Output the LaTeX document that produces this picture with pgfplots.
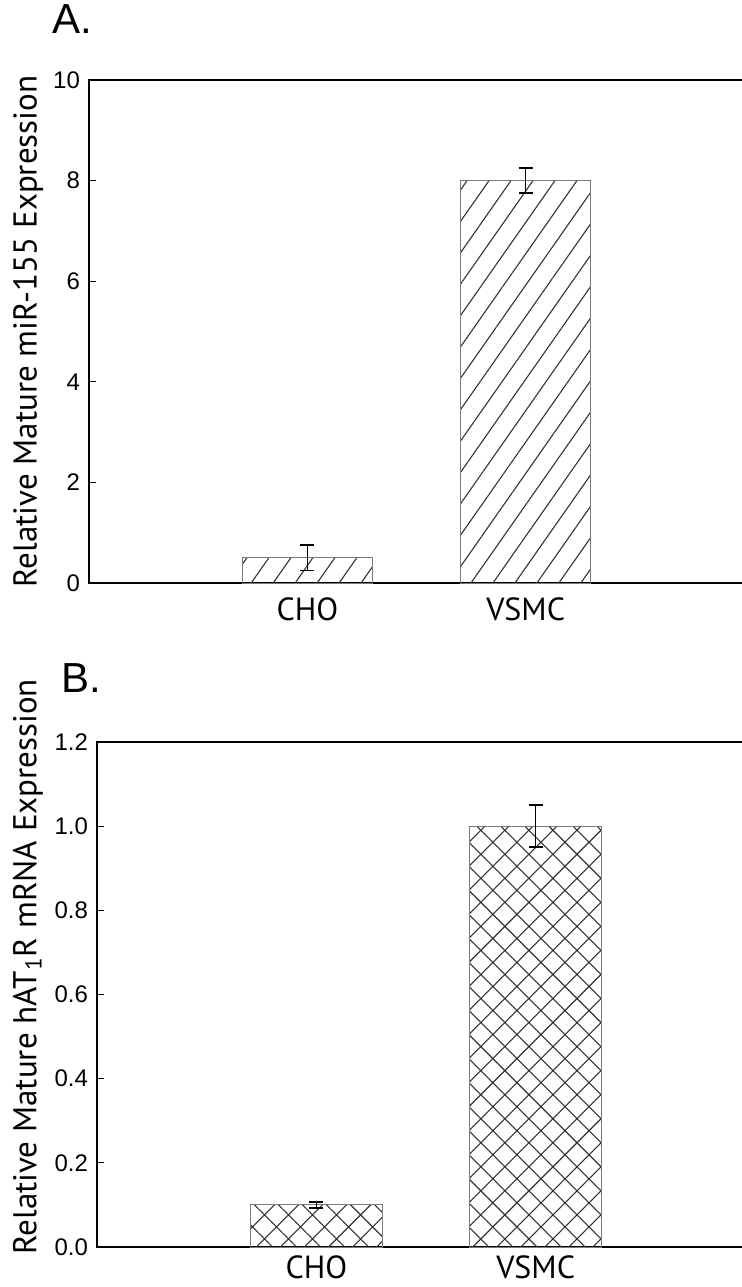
\documentclass[border=0pt]{standalone}
\usepackage{fontspec}
\setmainfont{Liberation Sans}
\newfontfamily\labfont{PT Sans}
\usepackage{pgfplots}
\pgfplotsset{compat=1.18}
\usetikzlibrary{patterns.meta}

\definecolor{HatchGray}{HTML}{333333}
\definecolor{EdgeGray}{HTML}{7A7A7A}

\pgfplotsset{
  panel/.style={
    scale only axis, ybar, xmin=0, xmax=3, ymin=0,
    xtick={1,2}, xticklabels={CHO,VSMC},
    xtick style={draw=none},
    ytick pos=left, tick align=inside, major tick length=3.5pt,
    ytick style={line width=0.6pt,black},
    axis line style={line width=1.25pt},
    tick label style={font=\fontsize{12}{14}\selectfont},
    yticklabel style={xshift=-1pt},
    xticklabel style={font=\labfont\fontsize{16}{18}\selectfont},
    /pgf/number format/assume math mode=true,
    every axis y label/.style={rotate=90,anchor=center,
      font=\labfont\fontsize{16.5}{18}\selectfont},
    clip=false},
  errs/.style={error bars/.cd, y dir=both, y explicit,
    error bar style={line width=0.8pt,black},
    error mark options={rotate=90,line width=0.8pt,mark size=3.5pt,black}}}

\begin{document}
\begin{tikzpicture}
\useasboundingbox (0,0) rectangle (371pt,-643.5pt);

\node[anchor=base west,inner sep=0pt,font=\fontsize{21}{23}\selectfont] at (26pt,-16.5pt) {A.};
\node[anchor=base west,inner sep=0pt,font=\fontsize{21}{23}\selectfont] at (30.5pt,-346pt) {B.};

% panel A
\begin{axis}[panel, at={(44.5pt,-291.5pt)}, anchor=south west,
  width=327.5pt, height=251.5pt, ymax=10, ytick={0,2,...,10},
  bar width=65pt, xticklabel style={yshift=-4pt},
  ylabel={Relative Mature miR-155 Expression},
  every axis y label/.append style={at={(axis description cs:-0.093,0.5)}}]
  \addplot[pattern={Lines[angle=55,distance=9pt,line width=0.55pt]},
    pattern color=HatchGray, draw=EdgeGray, line width=0.5pt, errs]
    coordinates {(1,0.5) +- (0,0.25) (2,8.0) +- (0,0.25)};
\end{axis}

% panel B
\begin{axis}[panel, at={(48.5pt,-623.5pt)}, anchor=south west,
  width=329pt, height=252.5pt, ymax=1.2, ytick={0,0.2,...,1.2},
  yticklabel style={/pgf/number format/.cd,fixed,fixed zerofill,precision=1},
  bar width=66pt, xticklabel style={yshift=-1pt},
  ylabel={Relative Mature hAT\textsubscript{1}R mRNA Expression},
  every axis y label/.append style={at={(axis description cs:-0.105,0.555)}}]
  \addplot[pattern={Hatch[angle=45,distance=8.5pt,line width=0.55pt]},
    pattern color=HatchGray, draw=EdgeGray, line width=0.5pt, errs]
    coordinates {(1,0.1) +- (0,0.007) (2,1.0) +- (0,0.05)};
\end{axis}
\end{tikzpicture}
\end{document}
